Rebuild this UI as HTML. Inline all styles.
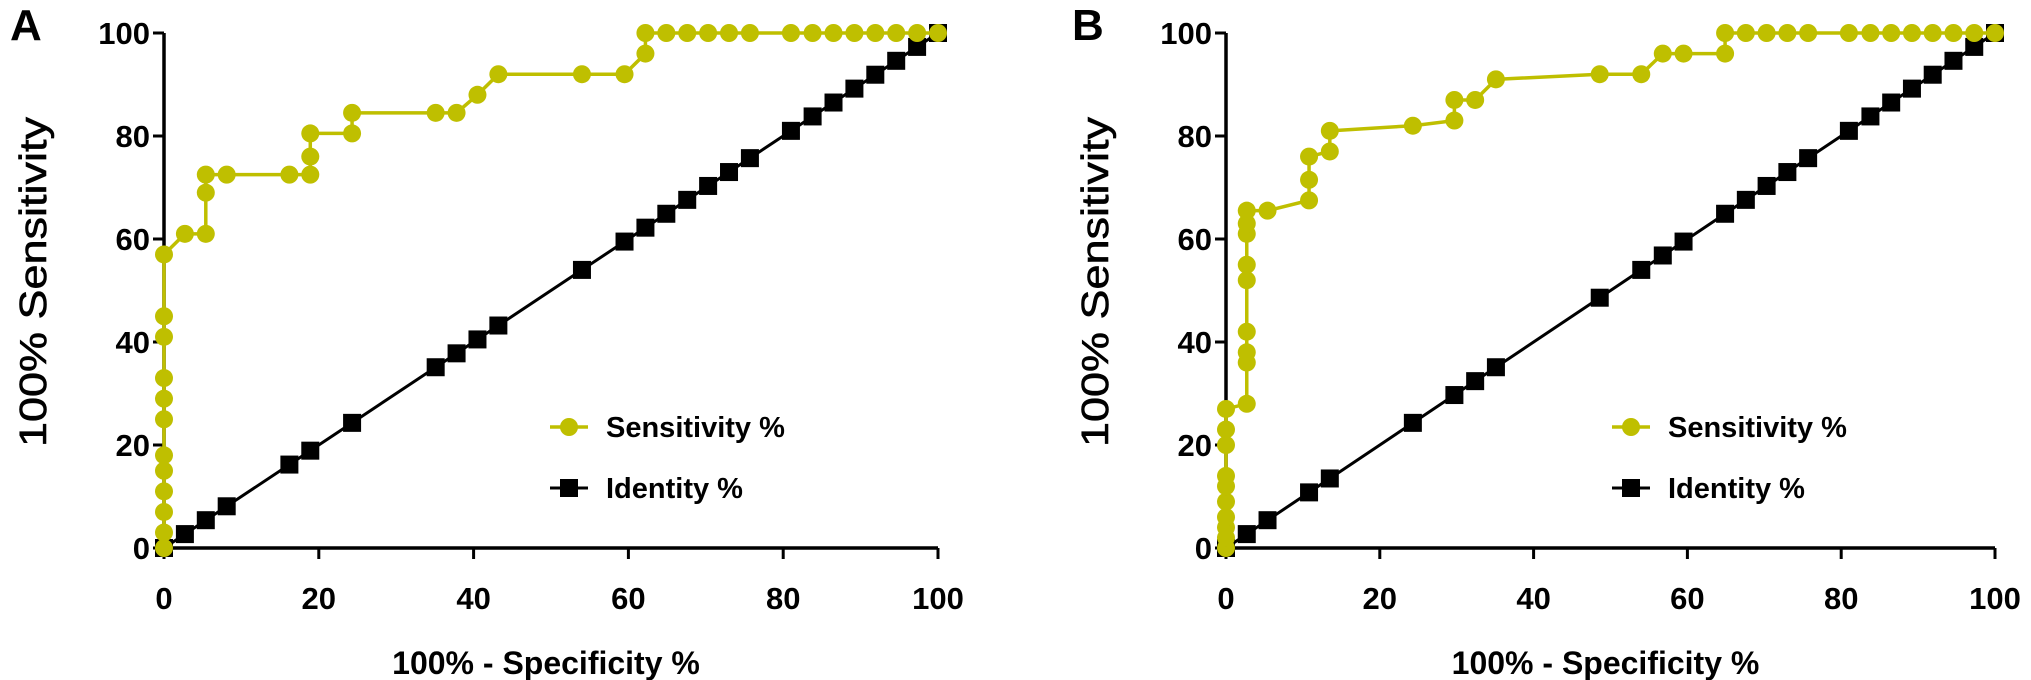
<!DOCTYPE html>
<html><head><meta charset="utf-8"><style>
html,body{margin:0;padding:0;background:#fff}
svg{display:block;font-family:"Liberation Sans",Arial,sans-serif;font-weight:bold}
</style></head><body>
<svg id="c" width="2031" height="680" viewBox="0 0 2031 680"></svg>
<script>
const yTicks=[0,20,40,60,80,100];
const xTicks=[0,20,40,60,80,100];
const aSensX=[0,0,0,0,0,0,0,0,0,0,0,0,2.7,5.4,5.4,5.4,8.1,16.2,18.9,18.9,18.9,24.3,24.3,35.1,37.8,40.5,43.2,54,59.5,62.2,62.2,64.9,67.6,70.3,73,75.7,81,83.8,86.5,89.2,91.9,94.6,97.3,100];
const aSensY=[0,3,7,11,15,18,25,29,33,41,45,57,61,61,69,72.5,72.5,72.5,72.5,76,80.5,80.5,84.5,84.5,84.5,88,92,92,92,96,100,100,100,100,100,100,100,100,100,100,100,100,100,100];
const aIdent=[0,2.7,5.4,8.1,16.2,18.9,24.3,35.1,37.8,40.5,43.2,54,59.5,62.2,64.9,67.6,70.3,73,75.7,81,83.8,86.5,89.2,91.9,94.6,97.3,100];
const bSensX=[0,0,0,0,0,0,0,0,0,0,2.7,2.7,2.7,2.7,2.7,2.7,2.7,2.7,2.7,5.4,10.8,10.8,10.8,13.5,13.5,24.3,29.7,29.7,32.4,35.1,48.6,54,56.8,59.5,64.9,64.9,67.6,70.3,73,75.7,81,83.8,86.5,89.2,91.9,94.6,97.3,100];
const bSensY=[0,2,4,6,9,12,14,20,23,27,28,36,38,42,52,55,61,63,65.5,65.5,67.5,71.5,76,77,81,82,83,87,87,91,92,92,96,96,96,100,100,100,100,100,100,100,100,100,100,100,100,100];
const bIdent=[0,2.7,5.4,10.8,13.5,24.3,29.7,32.4,35.1,48.6,54,56.8,59.5,64.9,67.6,70.3,73,75.7,81,83.8,86.5,89.2,91.9,94.6,97.3,100];

const NS='http://www.w3.org/2000/svg';
const svg=document.getElementById('c');
const YEL='#bfbf00';
function mk(t,a,p){const e=document.createElementNS(NS,t);for(const k in a)e.setAttribute(k,a[k]);(p||svg).appendChild(e);return e;}
function panel(id,letter,x0,x1,sx,sy,ident){
  const g=mk('g',{});
  
  
  const X=v=>x0+(x1-x0)*v/100, Y0=548,Y1=33, Y=v=>Y0-(Y0-Y1)*v/100;
  const L=mk('text',{x:x0-154,y:40,'font-size':44,fill:'#000'},g);L.textContent=letter;
  
  
  const ya=mk('line',{x1:x0,y1:Y1,x2:x0,y2:Y0,stroke:'#000','stroke-width':3.5},g);
  
  
  const xa=mk('line',{x1:x0,y1:Y0,x2:X(100),y2:Y0,stroke:'#000','stroke-width':3.5},g);
  
  
  yTicks.forEach(v=>{
    mk('line',{x1:x0-11,y1:Y(v),x2:x0,y2:Y(v),stroke:'#000','stroke-width':3},g);
    const t=mk('text',{x:x0-14,y:Y(v)+11,'font-size':31,'text-anchor':'end'},g);t.textContent=v;
    
    
  });
  xTicks.forEach(v=>{
    mk('line',{x1:X(v),y1:Y0,x2:X(v),y2:Y0+11,stroke:'#000','stroke-width':3},g);
    const t=mk('text',{x:X(v),y:609,'font-size':31,'text-anchor':'middle'},g);t.textContent=v;
    
    
  });
  const yt=mk('text',{transform:`translate(${x0-118},282) rotate(-90)`,'font-size':38,'font-weight':'normal','text-anchor':'middle',textLength:330,lengthAdjust:'spacingAndGlyphs','stroke':'#000','stroke-width':0.6},g);
  yt.textContent='100%  Sensitivity';
  
  
  const xt=mk('text',{x:(x0+X(100))/2-5,y:674,'font-size':32,'text-anchor':'middle'},g);
  xt.textContent='100% - Specificity %';
  
  
  const ip=mk('polyline',{points:ident.map(v=>X(v)+','+Y(v)).join(' '),fill:'none',stroke:'#000','stroke-width':3},g);
  
  
  ident.forEach(v=>{const r=mk('rect',{x:X(v)-9,y:Y(v)-9,width:18,height:18,fill:'#000'},g);
    
    });
  const sp=mk('polyline',{points:sx.map((v,i)=>X(v)+','+Y(sy[i])).join(' '),fill:'none',stroke:YEL,'stroke-width':3.5},g);
  
  
  sx.forEach((v,i)=>{const c=mk('circle',{cx:X(v),cy:Y(sy[i]),r:9,fill:YEL},g);
    
    });
  const lx=x0+386;
  const le1=mk('g',{},g);
  
  
  mk('line',{x1:lx,y1:427,x2:lx+38,y2:427,stroke:YEL,'stroke-width':3.5},le1);
  mk('circle',{cx:lx+19,cy:427,r:9,fill:YEL},le1);
  const t1=mk('text',{x:lx+56,y:437,'font-size':29},le1);t1.textContent='Sensitivity %';
  const le2=mk('g',{},g);
  
  
  mk('line',{x1:lx,y1:488,x2:lx+38,y2:488,stroke:'#000','stroke-width':3},le2);
  mk('rect',{x:lx+10,y:479,width:18,height:18,fill:'#000'},le2);
  const t2=mk('text',{x:lx+56,y:498,'font-size':29},le2);t2.textContent='Identity %';
}
panel('a','A',164,938,aSensX,aSensY,aIdent);
panel('b','B',1226,1995,bSensX,bSensY,bIdent);
</script>
</body></html>
